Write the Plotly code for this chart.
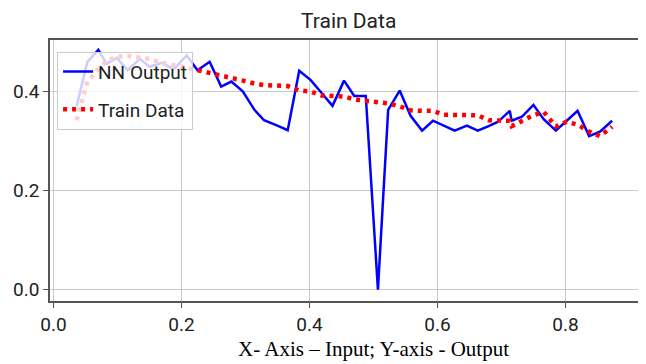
import plotly.graph_objects as go

x_input = [0.036, 0.053, 0.070, 0.083, 0.099, 0.116, 0.135, 0.150, 0.169, 0.188,
           0.208, 0.225, 0.244, 0.262, 0.278, 0.296, 0.314, 0.329, 0.348, 0.366,
           0.384, 0.402, 0.419, 0.436, 0.454, 0.470, 0.488, 0.507, 0.523, 0.541,
           0.558, 0.576, 0.593, 0.610, 0.627, 0.646, 0.663, 0.680, 0.695, 0.713,
           0.716, 0.732, 0.750, 0.766, 0.785, 0.802, 0.819, 0.837, 0.854, 0.873]

nn_output = [0.370, 0.460, 0.484, 0.456, 0.468, 0.443, 0.466, 0.450, 0.458, 0.445,
             0.473, 0.443, 0.460, 0.410, 0.420, 0.400, 0.363, 0.342, 0.332, 0.322,
             0.442, 0.423, 0.397, 0.371, 0.422, 0.391, 0.391, 0.000, 0.363, 0.402,
             0.351, 0.321, 0.341, 0.331, 0.321, 0.331, 0.321, 0.330, 0.339, 0.361,
             0.341, 0.349, 0.373, 0.344, 0.321, 0.341, 0.361, 0.310, 0.319, 0.341]

train_data = [0.342, 0.420, 0.445, 0.462, 0.470, 0.472, 0.468, 0.466, 0.458, 0.452,
              0.448, 0.443, 0.438, 0.432, 0.428, 0.422, 0.416, 0.413, 0.412, 0.411,
              0.402, 0.400, 0.392, 0.391, 0.390, 0.384, 0.381, 0.378, 0.376, 0.370,
              0.362, 0.361, 0.361, 0.353, 0.352, 0.352, 0.352, 0.342, 0.341, 0.341,
              0.330, 0.340, 0.352, 0.359, 0.329, 0.339, 0.333, 0.319, 0.310, 0.329]

x_ticks = [0.0, 0.2, 0.4, 0.6, 0.8]
y_ticks = [0.0, 0.2, 0.4]

FONT = "Roboto, Liberation Sans, sans-serif"

fig = go.Figure()
fig.add_trace(go.Scatter(x=x_input, y=nn_output, mode="lines", name="NN Output",
                         line=dict(color="#0000ff", width=2.5), legendgroup="a"))
fig.add_trace(go.Scatter(x=x_input, y=train_data, mode="lines", name="Train Data",
                         line=dict(color="#ff0000", width=4.5, dash="4px,5px"), legendgroup="b"))

axis_common = dict(showgrid=True, gridcolor="#c8c8c8", gridwidth=1,
                   showline=True, linecolor="#555555", linewidth=1.5, mirror=True,
                   ticks="outside", ticklen=5, tickcolor="#555555", zeroline=False,
                   tickfont=dict(family=FONT, size=19, color="#222222"))

fig.update_xaxes(range=[-0.0055, 0.915], tickvals=x_ticks,
                 ticktext=[f"{v:.1f}" for v in x_ticks], **axis_common)
fig.update_yaxes(range=[-0.023, 0.504], tickvals=y_ticks,
                 ticktext=[f"{v:.1f}" for v in y_ticks], **axis_common)

# page body adds an 8px offset; figure is sized/margined to compensate
fig.update_layout(
    width=638, height=356,
    margin=dict(l=42, r=5, t=32, b=63),
    paper_bgcolor="white", plot_bgcolor="white",
    title=dict(text="Train Data", x=0.534, xanchor="center", y=0.965, yanchor="middle",
               font=dict(family=FONT, size=21, color="#222222")),
    showlegend=True,
    legend=dict(x=0.012, y=0.955, xanchor="left", yanchor="top",
                bgcolor="rgba(255,255,255,0.8)", bordercolor="#cccccc", borderwidth=1,
                font=dict(family=FONT, size=19, color="#222222"),
                traceorder="grouped", tracegroupgap=10),
    annotations=[dict(text="X- Axis \u2013 Input; Y-axis - Output", xref="paper", yref="paper",
                      x=0.55, y=-0.184, xanchor="center", yanchor="middle", showarrow=False,
                      font=dict(family="Liberation Serif, Times New Roman, serif", size=21,
                                color="#000000"))],
)

fig.write_html("out.html")
